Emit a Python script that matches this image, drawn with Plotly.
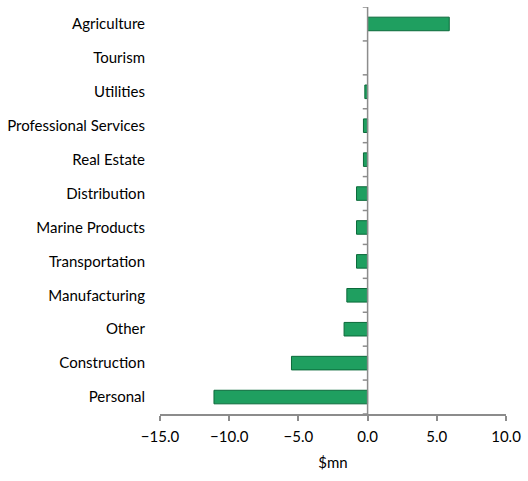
import plotly.graph_objects as go

categories = ["Agriculture", "Tourism", "Utilities", "Professional Services", "Real Estate",
              "Distribution", "Marine Products", "Transportation", "Manufacturing", "Other",
              "Construction", "Personal"]
values = [5.9, 0.0, -0.2, -0.3, -0.3, -0.8, -0.8, -0.8, -1.5, -1.7, -5.5, -11.1]
x_ticks = [-15, -10, -5, 0, 5, 10]

font = dict(family="Lato, 'Open Sans', sans-serif", size=15, color="#000000")
axis_gray = "#8c8c8c"
n = len(categories)

fig = go.Figure()
fig.add_trace(go.Bar(
    x=values, y=categories, orientation="h",
    marker=dict(color="#1f9f60",
                line=dict(color="#0b6a3a", width=[0 if v == 0 else 1 for v in values])),
    hoverinfo="x+y",
))

# vertical category axis at x = 0 with boundary tick marks (axis decoration, on hidden y2)
tick_len_units = 5 / (357 / 25)
ax_x, ax_y = [0, 0, None], [0, n, None]
for i in range(n + 1):
    ax_x += [-tick_len_units, 0, None]
    ax_y += [i, i, None]
fig.add_trace(go.Scatter(
    x=ax_x, y=ax_y, yaxis="y2", mode="lines",
    line=dict(color=axis_gray, width=1.5), hoverinfo="skip",
    showlegend=False, cliponaxis=False,
))

fig.update_layout(
    width=528, height=481,
    margin=dict(l=155, r=16, t=7, b=67),
    plot_bgcolor="white", paper_bgcolor="white",
    font=font, showlegend=False, bargap=0.6,
    xaxis=dict(
        range=[-15, 10], tickvals=x_ticks, tickformat=".1f",
        showgrid=False, zeroline=False,
        showline=True, linecolor=axis_gray, linewidth=1.5,
        ticks="outside", ticklen=5, tickcolor=axis_gray, tickwidth=1.5,
        title=dict(text="$mn", font=font, standoff=14),
        tickfont=font, ticklabelstandoff=3,
    ),
    yaxis=dict(
        type="category", categoryorder="array", categoryarray=categories,
        range=[n - 0.5, -0.5], showgrid=False, zeroline=False, showline=False,
        ticks="", tickfont=font, ticklabelstandoff=14,
    ),
    yaxis2=dict(
        overlaying="y", range=[n, 0], visible=False,
        showgrid=False, zeroline=False, showticklabels=False,
    ),
)

fig.write_html("out.html")
